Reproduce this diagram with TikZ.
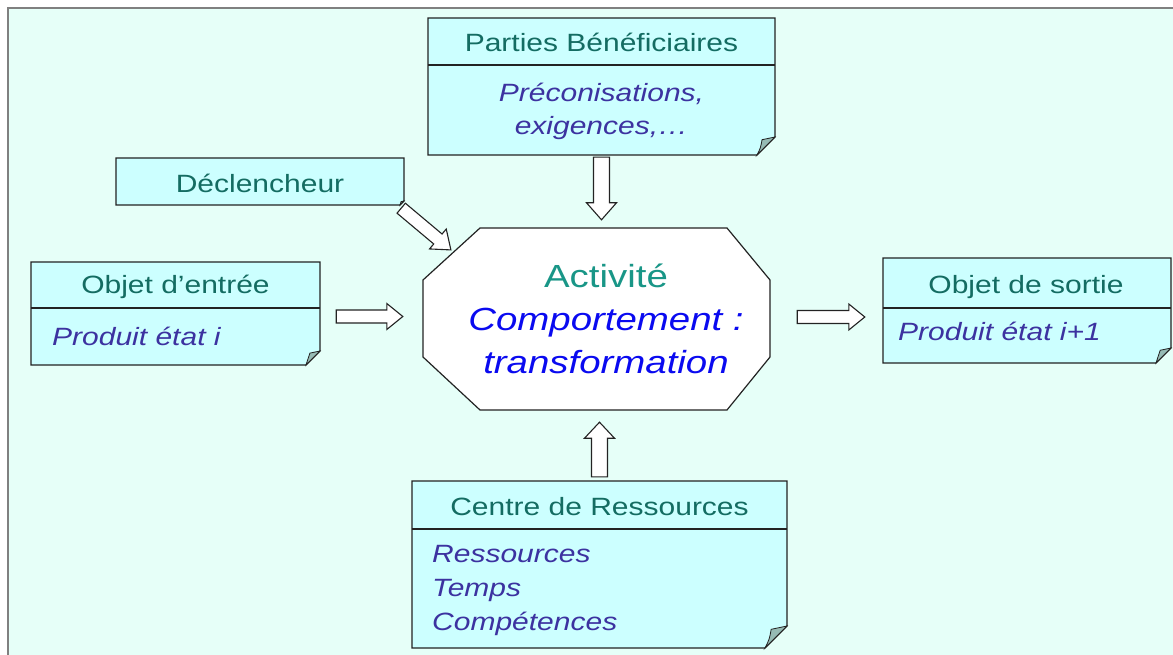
\documentclass[tikz,border=0pt]{standalone}
\usepackage{fontspec}
\setmainfont[FakeStretch=1.2]{Liberation Sans}
\usetikzlibrary{calc,fit}
\definecolor{bgmint}{RGB}{230,255,248}
\definecolor{framegray}{RGB}{128,128,128}
\definecolor{boxfill}{RGB}{204,255,255}
\definecolor{foldfill}{RGB}{150,186,180}
\definecolor{edge}{RGB}{35,35,35}
\definecolor{headtxt}{RGB}{20,108,98}
\definecolor{bodytxt}{RGB}{60,50,160}
\definecolor{acttxt}{RGB}{25,150,135}
\definecolor{comptxt}{RGB}{10,10,240}
\tikzset{
  boxline/.style={draw=edge, line width=1.2pt, line join=miter},
  barrow/.style={draw=edge, line width=1.1pt, fill=white, line join=miter},
  headtext/.style={text=headtxt, inner sep=0pt, font=\fontsize{25}{30}\selectfont},
  bodytext/.style={text=bodytxt, inner sep=0pt, font=\fontsize{25}{33}\selectfont\itshape},
}
% #1 name, #2 x1, #3 y1, #4 x2, #5 y2, #6 fold size
\newcommand\notebox[6]{%
  \draw[boxline, fill=boxfill] (#2,#3) -- (#4,#3) -- (#4,{#5-#6}) -- ({#4-#6},#5) -- (#2,#5) -- cycle;
  \draw[boxline, fill=foldfill, line width=0.8pt] ({#4-#6},#5) .. controls ({#4-0.8*#6},{#5-0.4*#6}) .. ({#4-0.72*#6},{#5-0.85*#6}) -- (#4,{#5-#6}) -- cycle;
  \node[inner sep=0pt, fit={(#2,#3)(#4,#5)}] (#1) {};
}
\newcommand\headerline[2]{\draw[boxline] (#1.west |- 0,#2) -- (#1.east |- 0,#2);}
% #1 start, #2 end, #3 half shaft, #4 half head, #5 head length
\newcommand\blockarrow[5]{%
  \draw[barrow] let \p1=#1, \p2=#2, \n1={atan2(\y2-\y1,\x2-\x1)}, \n2={veclen(\x2-\x1,\y2-\y1)} in
    [shift={(\p1)}, rotate=\n1] (0,-#3) -- ({\n2-#5},-#3) -- ({\n2-#5},-#4) -- (\n2,0) -- ({\n2-#5},#4) -- ({\n2-#5},#3) -- (0,#3) -- cycle;
}
\begin{document}
\begin{tikzpicture}[x=1pt,y=-1pt]
\useasboundingbox (0,0) rectangle (1173,655);
\fill[white] (0,0) rectangle (1173,655);
\draw[draw=framegray, line width=1.5pt, fill=bgmint] (8,8) rectangle (1190,672);

% boxes
\notebox{pb}{428}{18}{775}{155}{18}
\headerline{pb}{65}
\notebox{decl}{116}{158}{404}{205}{4}
\notebox{entree}{31}{262}{320}{365}{14}
\headerline{entree}{308}
\notebox{sortie}{883}{258}{1171}{363}{15}
\headerline{sortie}{308}
\notebox{crc}{412}{481}{787}{648}{22}
\headerline{crc}{529}

% activity octagon
\draw[boxline, fill=white] (423,280) -- (480,228) -- (727,228) -- (770,280) -- (770,357) -- (727,410) -- (480,410) -- (423,357) -- cycle;
\node[inner sep=0pt, minimum width=347pt, minimum height=182pt] (act) at (596.5,319) {};
\coordinate (dtip) at (451,250);

% texts
\node[headtext, anchor=base] at (601.5,52) {Parties Bénéficiaires};
\node[bodytext, align=center] at (601.5,111) {Préconisations,\\exigences,\ldots};
\node[headtext, anchor=base] at (260,193) {Déclencheur};
\node[headtext, anchor=base] at (175.5,293) {Objet d’entrée};
\node[bodytext, anchor=base west] at (52,345) {Produit état i};
\node[headtext, anchor=base] at (1026,294) {Objet de sortie};
\node[bodytext, anchor=base west] at (898,340) {Produit état i+1};
\node[headtext, anchor=base] at (599.5,515) {Centre de Ressources};
\node[bodytext, align=left, anchor=west, font=\fontsize{25}{34}\selectfont\itshape] at (432,590) {Ressources\\Temps\\Compétences};
\node[inner sep=0pt, align=center, font=\fontsize{32}{43}\selectfont] (acttext) at (606,319)
  {\textcolor{acttxt}{Activité}\\\textcolor{comptxt}{\itshape Comportement :}\\\textcolor{comptxt}{\itshape transformation}};

% block arrows
\blockarrow{($(pb.south)+(0,2)$)}{($(pb.south |- act.north)+(0,-8)$)}{8}{15}{17}
\blockarrow{($(crc.north)+(0,-4)$)}{($(crc.north |- act.south)+(0,12)$)}{8}{15}{16}
\blockarrow{($(entree.east)+(16,3)$)}{($(act.west |- entree.east)+(-20,3)$)}{6.5}{13}{16}
\blockarrow{($(act.east |- sortie.west)+(27,6.5)$)}{($(sortie.west)+(-18,6.5)$)}{6.5}{13}{16}
\blockarrow{($(decl.south east)+(-3,3)$)}{(dtip)}{6.5}{13}{17}
\end{tikzpicture}
\end{document}
